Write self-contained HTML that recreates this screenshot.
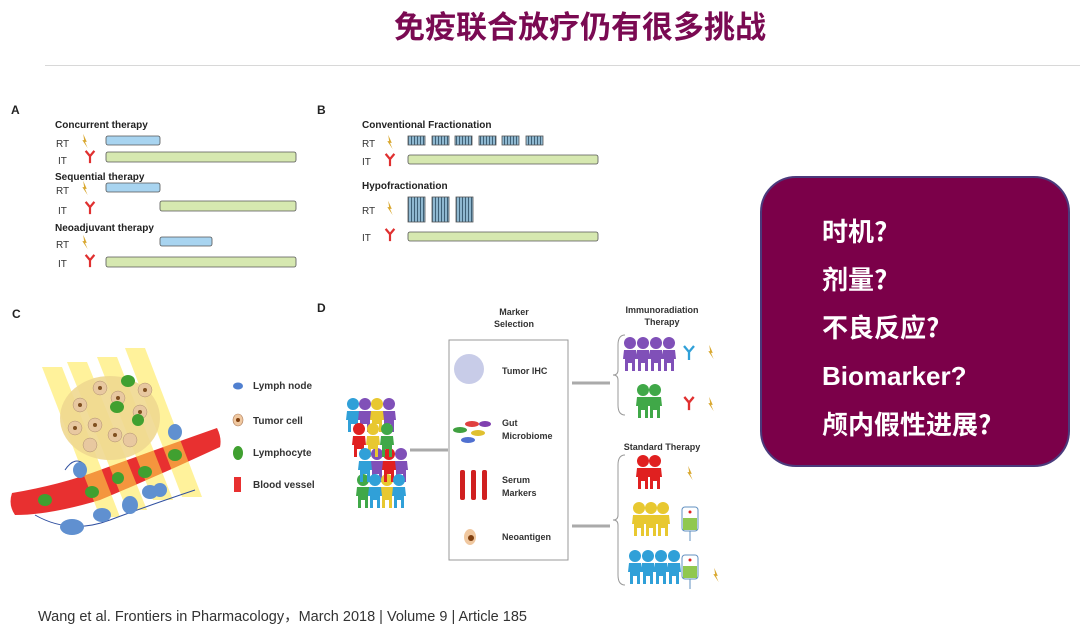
<!DOCTYPE html>
<html><head><meta charset="utf-8"><style>
html,body{margin:0;padding:0;background:#fff;}
body{width:1080px;height:631px;position:relative;overflow:hidden;font-family:"Liberation Sans","Noto Sans CJK SC",sans-serif;}
.t{position:absolute;}
</style></head><body>
<div class="t" style="left:0;width:1160px;top:2px;text-align:center;font-size:31px;font-weight:bold;color:#7a0a52;font-family:'Noto Sans CJK SC',sans-serif;">免疫联合放疗仍有很多挑战</div>
<div class="t" style="left:45px;top:65px;width:1035px;height:1px;background:#d8d8d8"></div>
<div class="t" style="left:760px;top:176px;width:306px;height:287px;border-radius:36px;background:#7b0049;border:2px solid #4b3a7c;"></div>
<div class="t" style="left:822px;top:207px;color:#fff;font-weight:bold;font-size:26px;line-height:48px;font-family:'Noto Sans CJK SC',sans-serif;">时机?<br>剂量?<br>不良反应?<br><span style="font-family:'Liberation Sans',sans-serif">Biomarker?</span><br>颅内假性进展?</div>
<div class="t" style="left:38px;top:605px;font-size:14.5px;color:#333;">Wang et al. Frontiers in Pharmacology，March 2018 | Volume 9 | Article 185</div>

<svg class="t" style="left:0;top:0" width="760" height="600" font-family="Liberation Sans,sans-serif">
<defs>
<symbol id="p" viewBox="0 0 14 34"><circle cx="7" cy="6" r="6" fill="currentColor"/><path d="M1 13h12l1 9h-2v12h-3v-8h-4v8h-3V22H0z" fill="currentColor"/></symbol>
<symbol id="y" viewBox="0 0 12 16"><path d="M1 1l5 6 5-6M6 7v8" stroke="#e03030" stroke-width="2.5" fill="none"/></symbol>
<symbol id="b" viewBox="0 0 8 18"><path d="M2 1l4 9-2 0 3 7-6-9 2 0z" fill="#d9a830"/></symbol>
<pattern id="st" width="3" height="10" patternUnits="userSpaceOnUse"><rect width="3" height="10" fill="#8fb8d0"/><rect width="0.8" height="10" fill="#2a4a60"/></pattern>
</defs>
<g font-weight="bold" font-size="10" fill="#222">
<text x="11" y="114" font-size="12">A</text>
<text x="317" y="114" font-size="12">B</text>
<text x="12" y="318" font-size="12">C</text>
<text x="317" y="312" font-size="12">D</text>
<text x="55" y="128">Concurrent therapy</text>
<text x="55" y="180">Sequential therapy</text>
<text x="55" y="231">Neoadjuvant therapy</text>
<text x="362" y="128">Conventional Fractionation</text>
<text x="362" y="189">Hypofractionation</text>
</g>
<g font-size="10" fill="#333">
<text x="56" y="147">RT</text><text x="58" y="164">IT</text>
<text x="56" y="194">RT</text><text x="58" y="214">IT</text>
<text x="56" y="248">RT</text><text x="58" y="267">IT</text>
<text x="362" y="147">RT</text><text x="362" y="165">IT</text>
<text x="362" y="214">RT</text><text x="362" y="241">IT</text>
</g>
<g>
<use href="#b" x="81" y="133" width="8" height="16"/><use href="#y" x="84" y="150" width="12" height="14"/>
<use href="#b" x="81" y="180" width="8" height="16"/><use href="#y" x="84" y="201" width="12" height="14"/>
<use href="#b" x="81" y="234" width="8" height="16"/><use href="#y" x="84" y="254" width="12" height="14"/>
<use href="#b" x="386" y="134" width="8" height="16"/><use href="#y" x="384" y="153" width="12" height="14"/>
<use href="#b" x="386" y="200" width="8" height="16"/><use href="#y" x="384" y="228" width="12" height="14"/>
</g>
<g stroke="#555" stroke-width="0.8">
<rect x="106" y="136" width="54" height="9" rx="2" fill="#a8d4f0"/>
<rect x="106" y="152" width="190" height="10" rx="2" fill="#d6e8b0"/>
<rect x="106" y="183" width="54" height="9" rx="2" fill="#a8d4f0"/>
<rect x="160" y="201" width="136" height="10" rx="2" fill="#d6e8b0"/>
<rect x="160" y="237" width="52" height="9" rx="2" fill="#a8d4f0"/>
<rect x="106" y="257" width="190" height="10" rx="2" fill="#d6e8b0"/>
<rect x="408" y="155" width="190" height="9" rx="2" fill="#d6e8b0"/>
<rect x="408" y="232" width="190" height="9" rx="2" fill="#d6e8b0"/>
<g fill="url(#st)">
<rect x="408" y="136" width="17" height="9"/><rect x="432" y="136" width="17" height="9"/><rect x="455" y="136" width="17" height="9"/><rect x="479" y="136" width="17" height="9"/><rect x="502" y="136" width="17" height="9"/><rect x="526" y="136" width="17" height="9"/>
<rect x="408" y="197" width="17" height="25"/><rect x="432" y="197" width="17" height="25"/><rect x="456" y="197" width="17" height="25"/>
</g>
</g>
<!-- panel C -->
<g>
<path d="M12 493 Q60 485 100 470 Q160 448 217 428 Q222 438 220 447 Q160 475 100 500 Q50 515 15 515 Q8 505 12 493Z" fill="#e83030"/>
<g fill="#ffe84a" opacity="0.55">
<polygon points="42,367 62,367 120,517 100,517"/>
<polygon points="67,362 87,362 147,510 127,510"/>
<polygon points="97,357 117,357 173,500 153,500"/>
<polygon points="125,348 145,348 202,497 182,497"/>
</g>
<ellipse cx="110" cy="418" rx="50" ry="42" fill="#f0d890" opacity="0.9"/>
<g fill="#e8c8a0" stroke="#b09070" stroke-width="0.5">
<circle cx="80" cy="405" r="7"/><circle cx="100" cy="388" r="7"/><circle cx="118" cy="398" r="7"/><circle cx="140" cy="412" r="7"/><circle cx="95" cy="425" r="7"/><circle cx="115" cy="435" r="7"/><circle cx="75" cy="428" r="7"/><circle cx="145" cy="390" r="7"/><circle cx="130" cy="440" r="7"/><circle cx="90" cy="445" r="7"/>
</g>
<g fill="#805020"><circle cx="80" cy="405" r="2"/><circle cx="100" cy="388" r="2"/><circle cx="118" cy="398" r="2"/><circle cx="140" cy="412" r="2"/><circle cx="95" cy="425" r="2"/><circle cx="115" cy="435" r="2"/><circle cx="75" cy="428" r="2"/><circle cx="145" cy="390" r="2"/></g>
<g fill="#40a030"><ellipse cx="128" cy="381" rx="7" ry="6"/><ellipse cx="117" cy="407" rx="7" ry="6"/><ellipse cx="138" cy="420" rx="6" ry="6"/><ellipse cx="45" cy="500" rx="7" ry="6"/><ellipse cx="92" cy="492" rx="7" ry="6"/><ellipse cx="145" cy="472" rx="7" ry="6"/><ellipse cx="175" cy="455" rx="7" ry="6"/><ellipse cx="118" cy="478" rx="6" ry="6"/></g>
<path d="M35 515 Q70 535 110 520 Q150 505 195 490" stroke="#3050a0" fill="none"/>
<path d="M65 470 Q75 455 85 465" stroke="#3050a0" fill="none"/>
<g fill="#6090d0"><ellipse cx="72" cy="527" rx="12" ry="8"/><ellipse cx="102" cy="515" rx="9" ry="7"/><ellipse cx="130" cy="505" rx="8" ry="9"/><ellipse cx="150" cy="492" rx="8" ry="7"/><ellipse cx="80" cy="470" rx="7" ry="8"/><ellipse cx="175" cy="432" rx="7" ry="8"/><ellipse cx="160" cy="490" rx="7" ry="7"/></g>
<ellipse cx="238" cy="386" rx="5" ry="3.5" fill="#5080d0"/>
<ellipse cx="238" cy="420" rx="5" ry="6" fill="#f0c8a0" stroke="#b08060" stroke-width="0.6"/><circle cx="238" cy="420" r="2" fill="#804010"/>
<ellipse cx="238" cy="453" rx="5" ry="7" fill="#40a030"/>
<rect x="234" y="477" width="7" height="15" fill="#e83030"/>
<g font-size="10" font-weight="bold" fill="#333"><text x="253" y="389">Lymph node</text><text x="253" y="424">Tumor cell</text><text x="253" y="456">Lymphocyte</text><text x="253" y="488">Blood vessel</text></g>
</g>
<!-- panel D -->
<g font-size="9" font-weight="bold" fill="#333" text-anchor="middle">
<text x="514" y="315">Marker</text><text x="514" y="327">Selection</text>
<text x="662" y="313">Immunoradiation</text><text x="662" y="325">Therapy</text>
<text x="662" y="450">Standard Therapy</text>
</g>
<rect x="449" y="340" width="119" height="220" fill="#fff" stroke="#999"/>
<circle cx="469" cy="369" r="15" fill="#c8cce8"/>
<g><ellipse cx="460" cy="430" rx="7" ry="3" fill="#40a040"/><ellipse cx="472" cy="424" rx="7" ry="3" fill="#e04040"/><ellipse cx="478" cy="433" rx="7" ry="3" fill="#e0c030"/><ellipse cx="468" cy="440" rx="7" ry="3" fill="#5070d0"/><ellipse cx="485" cy="424" rx="6" ry="3" fill="#8040b0"/></g>
<g fill="#d02020"><rect x="460" y="470" width="5" height="30" rx="2"/><rect x="471" y="470" width="5" height="30" rx="2"/><rect x="482" y="470" width="5" height="30" rx="2"/></g>
<ellipse cx="470" cy="537" rx="6" ry="8" fill="#f0c8a0"/><circle cx="471" cy="538" r="3" fill="#804010"/>
<g font-size="9" font-weight="bold" fill="#333"><text x="502" y="374">Tumor IHC</text><text x="502" y="426">Gut</text><text x="502" y="439">Microbiome</text><text x="502" y="483">Serum</text><text x="502" y="496">Markers</text><text x="502" y="540">Neoantigen</text></g>
<g stroke="#aaa" stroke-width="3" fill="none"><path d="M410 450h38"/><path d="M572 383h38"/><path d="M572 526h38"/></g>
<g stroke="#999" stroke-width="1" fill="none"><path d="M625 335q-7 0-7 10v25q0 5-5 5q5 0 5 5v25q0 10 7 10"/><path d="M625 455q-7 0-7 10v50q0 5-5 5q5 0 5 5v50q0 10 7 10"/></g>
<g style="color:#8050b8"><use href="#p" x="623" y="337" width="14" height="34"/><use href="#p" x="636" y="337" width="14" height="34"/><use href="#p" x="649" y="337" width="14" height="34"/><use href="#p" x="662" y="337" width="14" height="34"/></g>
<g style="color:#40a848"><use href="#p" x="636" y="384" width="14" height="34"/><use href="#p" x="648" y="384" width="14" height="34"/></g>
<g style="color:#e02020"><use href="#p" x="636" y="455" width="14" height="34"/><use href="#p" x="648" y="455" width="14" height="34"/></g>
<g style="color:#e8c830"><use href="#p" x="632" y="502" width="14" height="34"/><use href="#p" x="644" y="502" width="14" height="34"/><use href="#p" x="656" y="502" width="14" height="34"/></g>
<g style="color:#30a0d8"><use href="#p" x="628" y="550" width="14" height="34"/><use href="#p" x="641" y="550" width="14" height="34"/><use href="#p" x="654" y="550" width="14" height="34"/><use href="#p" x="667" y="550" width="14" height="34"/></g>
<path d="M684 346l5 6 5-6M689 352v8" stroke="#30a0d8" stroke-width="2.3" fill="none"/>
<use href="#y" x="683" y="396" width="12" height="15"/>
<use href="#b" x="707" y="344" width="8" height="16"/><use href="#b" x="707" y="396" width="8" height="16"/><use href="#b" x="686" y="465" width="8" height="16"/><use href="#b" x="712" y="567" width="8" height="16"/>
<g stroke="#6090c0" stroke-width="1"><rect x="682" y="507" width="16" height="24" rx="3" fill="#fff"/><rect x="683" y="518" width="14" height="12" fill="#90c850" stroke="none"/><rect x="682" y="555" width="16" height="24" rx="3" fill="#fff"/><rect x="683" y="566" width="14" height="12" fill="#90c850" stroke="none"/><path d="M690 531v10M690 579v10"/></g>
<circle cx="690" cy="512" r="1.5" fill="#e02020"/><circle cx="690" cy="560" r="1.5" fill="#e02020"/>
<g style="color:#30a0d8"><use href="#p" x="346" y="398" width="14" height="34"/></g>
<g style="color:#8050b8"><use href="#p" x="358" y="398" width="14" height="34"/><use href="#p" x="382" y="398" width="14" height="34"/><use href="#p" x="370" y="448" width="14" height="34"/><use href="#p" x="394" y="448" width="14" height="34"/></g>
<g style="color:#e8c830"><use href="#p" x="370" y="398" width="14" height="34"/><use href="#p" x="366" y="423" width="14" height="34"/><use href="#p" x="380" y="474" width="14" height="34"/></g>
<g style="color:#e02020"><use href="#p" x="352" y="423" width="14" height="34"/><use href="#p" x="382" y="448" width="14" height="34"/></g>
<g style="color:#40a848"><use href="#p" x="380" y="423" width="14" height="34"/><use href="#p" x="356" y="474" width="14" height="34"/></g>
<g style="color:#30a0d8"><use href="#p" x="358" y="448" width="14" height="34"/><use href="#p" x="368" y="474" width="14" height="34"/><use href="#p" x="392" y="474" width="14" height="34"/></g>
</svg>
</body></html>
